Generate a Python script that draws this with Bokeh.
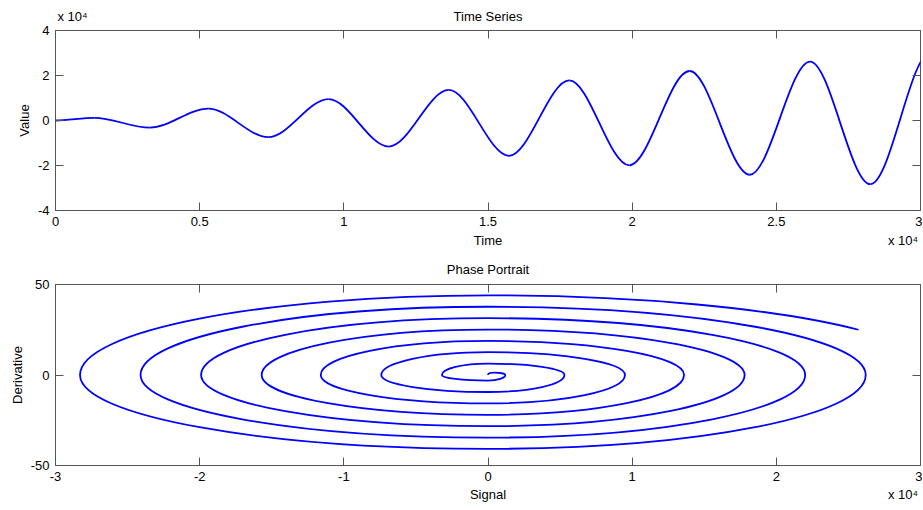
import math
from bokeh.plotting import figure
from bokeh.models import Range1d, LinearAxis, FixedTicker, ColumnDataSource
from bokeh.layouts import column
from bokeh.embed import file_html
from bokeh.resources import INLINE

# ---------------- data ----------------
# Time series: successive extrema (time, value); last pair lies just beyond the axis end
ts_time = [0, 1350, 3270, 5300, 7380, 9470, 11560, 13640, 15730, 17820,
           19900, 21990, 24080, 26170, 28260, 30350]
ts_value = [0, 1200, -3200, 5300, -7400, 9500, -11600, 13600, -15700, 17800,
            -19900, 22000, -24100, 26200, -28300, 30400]

# Phase portrait: key points of the spiral (signal, derivative), in drawing order
pp_signal = [0, 430, 1200, 0, -3200, 0, 5300, 0, -7400, 0, 9500, 0, -11600, 0,
             13600, 0, -15700, 0, 17800, 0, -19900, 0, 22000, 0, -24100, 0,
             26200, 0, -28300, 0, 25700]
pp_deriv = [0, 1.3, 0, -3.1, 0, 6.3, 0, -9.4, 0, 12.6, 0, -15.7, 0, 18.8,
            0, -22.0, 0, 25.1, 0, -28.3, 0, 31.4, 0, -34.6, 0, 37.7,
            0, -40.8, 0, 44.0, 25.0]

ts_xticks = [0, 5000, 10000, 15000, 20000, 25000, 30000]
ts_xtick_labels = ["0", "0.5", "1", "1.5", "2", "2.5", "3"]
ts_yticks = [-40000, -20000, 0, 20000, 40000]
ts_ytick_labels = ["-4", "-2", "0", "2", "4"]

pp_xticks = [-30000, -20000, -10000, 0, 10000, 20000, 30000]
pp_xtick_labels = ["-3", "-2", "-1", "0", "1", "2", "3"]
pp_yticks = [-50, 0, 50]
pp_ytick_labels = ["-50", "0", "50"]

EXPONENT = "x 10\u2074"

FONT = "Liberation Sans"
FRAME = "#555555"
BLUE = "#0000ff"
FRAME_W = 865  # plot frame width in px
TICK = 8


def base_axis(ticks):
    ax = LinearAxis(ticker=FixedTicker(ticks=ticks))
    ax.axis_line_color = None
    ax.minor_tick_line_color = None
    ax.major_tick_out = 0
    ax.major_label_text_font = FONT
    ax.major_label_text_font_size = "13px"
    ax.major_label_text_color = "black"
    ax.axis_label_text_font = FONT
    ax.axis_label_text_font_size = "13px"
    ax.axis_label_text_font_style = "normal"
    ax.axis_label_text_color = "black"
    return ax


def tick_axis(ticks, labels, show, standoff=6):
    ax = base_axis(ticks)
    ax.major_tick_in = TICK
    ax.major_tick_line_color = FRAME
    if show:
        ax.major_label_overrides = {t: l for t, l in zip(ticks, labels)}
        ax.major_label_standoff = standoff
    else:
        ax.major_label_overrides = {t: "" for t in ticks}
        ax.major_label_text_font_size = "0px"
        ax.major_label_text_color = None
        ax.major_label_standoff = 0
    return ax


def text_axis(positions, texts, standoff):
    # an axis with no line and no tick marks, used only to place texts in a row
    ax = base_axis(positions)
    ax.major_tick_in = 0
    ax.major_tick_line_color = None
    ax.major_label_overrides = {t: l for t, l in zip(positions, texts)}
    ax.major_label_standoff = standoff
    return ax


def setup(p, xticks, xlabels, yticks, ylabels, ylabel):
    p.xgrid.visible = False
    p.ygrid.visible = False
    p.xaxis.visible = False
    p.yaxis.visible = False
    p.outline_line_color = FRAME
    p.outline_line_width = 1
    p.background_fill_color = "white"
    p.border_fill_color = "white"
    p.add_layout(tick_axis(xticks, xlabels, True, 6), "below")
    ly = tick_axis(yticks, ylabels, True, 6)
    ly.axis_label = ylabel
    ly.axis_label_standoff = 3
    p.add_layout(ly, "left")
    p.add_layout(tick_axis(xticks, xlabels, False), "above")
    p.add_layout(tick_axis(yticks, ylabels, False), "right")


# ---------------- top: time series ----------------
x0r, x1r = 0, 30000
p1 = figure(width=922, height=258, x_range=Range1d(x0r, x1r),
            y_range=Range1d(-40000, 40000), output_backend="svg",
            toolbar_location=None, min_border_left=55, min_border_right=2,
            min_border_top=30, min_border_bottom=48, title=None)
setup(p1, ts_xticks, ts_xtick_labels, ts_yticks, ts_ytick_labels, "Value")
px1 = (x1r - x0r) / FRAME_W
mid1 = (x0r + x1r) / 2
exp_left1 = round(x0r + 17 * px1)
exp_right1 = round(x1r - 17.5 * px1)
p1.add_layout(text_axis([exp_left1, mid1], [EXPONENT, "Time Series"], 7), "above")
p1.add_layout(text_axis([mid1, exp_right1], ["Time", EXPONENT], 4), "below")

t0, t1 = ts_time[:-1], ts_time[1:]
v0, v1 = ts_value[:-1], ts_value[1:]
src1 = ColumnDataSource(dict(
    x0=t0, y0=v0, x1=t1, y1=v1,
    cx0=[a + (b - a) / 3.0 for a, b in zip(t0, t1)], cy0=v0,
    cx1=[b - (b - a) / 3.0 for a, b in zip(t0, t1)], cy1=v1))
p1.bezier(x0="x0", y0="y0", x1="x1", y1="y1", cx0="cx0", cy0="cy0",
          cx1="cx1", cy1="cy1", source=src1, line_color=BLUE, line_width=1.8)

# ---------------- bottom: phase portrait ----------------
x0r2, x1r2 = -30000, 30000
p2 = figure(width=922, height=252, x_range=Range1d(x0r2, x1r2),
            y_range=Range1d(-50, 50), output_backend="svg",
            toolbar_location=None, min_border_left=55, min_border_right=2,
            min_border_top=26, min_border_bottom=45, title=None)
setup(p2, pp_xticks, pp_xtick_labels, pp_yticks, pp_ytick_labels, "Derivative")
px2 = (x1r2 - x0r2) / FRAME_W
mid2 = (x0r2 + x1r2) / 2
exp_right2 = round(x1r2 - 17.5 * px2)
p2.add_layout(text_axis([mid2], ["Phase Portrait"], 8), "above")
p2.add_layout(text_axis([mid2, exp_right2], ["Signal", EXPONENT], 3), "below")

K = 0.5523
bx0, by0, bx1, by1, bcx0, bcy0, bcx1, bcy1 = ([] for _ in range(8))
n = len(pp_signal)
for i in range(n - 1):
    xa, ya, xb, yb = pp_signal[i], pp_deriv[i], pp_signal[i + 1], pp_deriv[i + 1]
    if i == n - 2:
        # final partial arc of the spiral
        b = ya
        th = math.acos(yb / b)
        a = xb / math.sin(th)
        h = 4.0 / 3.0 * math.tan(th / 4.0)
        c0 = (xa + h * a, ya)
        c1 = (xb - h * a * math.cos(th), yb + h * b * math.sin(th))
    else:
        c0 = (xa, ya + K * (yb - ya)) if ya == 0 else (xa + K * (xb - xa), ya)
        c1 = (xb, yb + K * (ya - yb)) if yb == 0 else (xb + K * (xa - xb), yb)
    bx0.append(xa); by0.append(ya); bx1.append(xb); by1.append(yb)
    bcx0.append(c0[0]); bcy0.append(c0[1]); bcx1.append(c1[0]); bcy1.append(c1[1])

src2 = ColumnDataSource(dict(x0=bx0, y0=by0, x1=bx1, y1=by1,
                             cx0=bcx0, cy0=bcy0, cx1=bcx1, cy1=bcy1))
p2.bezier(x0="x0", y0="y0", x1="x1", y1="y1", cx0="cx0", cy0="cy0",
          cx1="cx1", cy1="cy1", source=src2, line_color=BLUE, line_width=1.8)

layout = column(p1, p2, spacing=0)
open("out.html", "w").write(file_html(layout, INLINE))
